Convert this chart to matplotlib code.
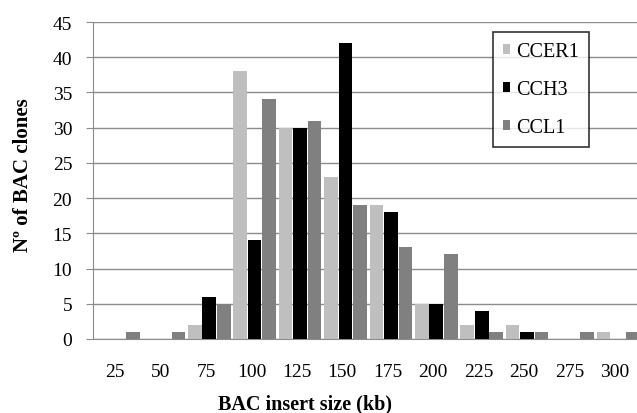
import numpy as np
import matplotlib
matplotlib.use("Agg")
import matplotlib.pyplot as plt

categories = ["25", "50", "75", "100", "125", "150", "175", "200", "225", "250", "275", "300"]
ccer1 = [0, 0, 2, 38, 30, 23, 19, 5, 2, 2, 0, 1]
cch3 = [0, 0, 6, 14, 30, 42, 18, 5, 4, 1, 0, 0]
ccl1 = [1, 1, 5, 34, 31, 19, 13, 12, 1, 1, 1, 1]
series_names = ["CCER1", "CCH3", "CCL1"]
colors = ["#BFBFBF", "#000000", "#808080"]

plt.rcParams['font.family'] = ['Liberation Serif', 'DejaVu Serif']

W, H = 637, 414
fig = plt.figure(figsize=(W / 100, H / 100), dpi=100)
ax = fig.add_axes([93 / W, (H - 340) / H, (W - 93) / W, (340 - 23) / H])

x = np.arange(len(categories))
bw = 0.30
step = 0.32
for k, (vals, name, c) in enumerate(zip([ccer1, cch3, ccl1], series_names, colors)):
    ax.bar(x + (k - 1) * step, vals, width=bw, color=c, label=name, zorder=3)

ax.set_xlim(-0.56, 11.42)
ax.set_ylim(0, 45)
ax.set_yticks(np.arange(0, 46, 5))
ax.set_xticks(x - 0.07)
ax.set_xticklabels(categories)
ax.grid(axis='y', color='#8C8C8C', linewidth=1.0, zorder=0)
ax.set_axisbelow(True)
for s in ['top', 'right']:
    ax.spines[s].set_visible(False)
ax.spines['left'].set_color('#8C8C8C')
ax.spines['bottom'].set_color('#8C8C8C')
ax.tick_params(axis='y', length=5, color='#8C8C8C', labelsize=14, pad=10)
ax.tick_params(axis='x', length=0, labelsize=14, pad=17)

fig.text(23 / W, 1 - 175 / H, "N\u00ba of BAC clones", fontsize=15, fontweight='bold',
         rotation=90, ha='center', va='center')
fig.text(305 / W, 1 - 404 / H, "BAC insert size (kb)", fontsize=14.5, fontweight='bold',
         ha='center', va='center')

leg = ax.legend(loc='upper left', bbox_to_anchor=(493 / W, 1 - 33 / H),
                bbox_transform=fig.transFigure,
                frameon=True, fancybox=False, edgecolor='black', fontsize=14.5,
                handlelength=0.35, handleheight=0.35, handletextpad=0.3,
                labelspacing=0.95, borderpad=0.5, borderaxespad=0)
leg.get_frame().set_linewidth(1.2)

fig.savefig("out.png", dpi=100)
